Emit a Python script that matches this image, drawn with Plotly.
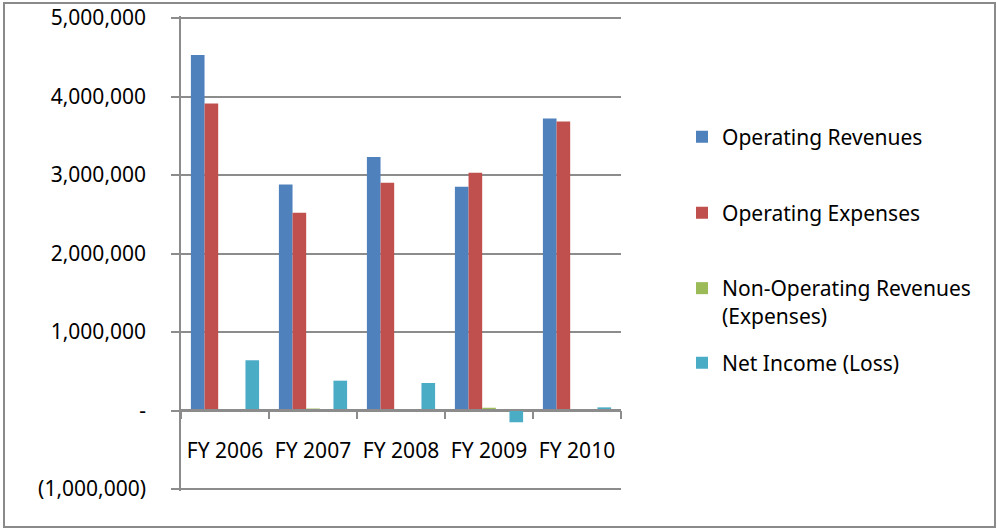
import plotly.graph_objects as go

categories = ["FY 2006", "FY 2007", "FY 2008", "FY 2009", "FY 2010"]
operating_revenues = [4530000, 2880000, 3230000, 2850000, 3720000]
operating_expenses = [3910000, 2520000, 2900000, 3030000, 3680000]
non_operating = [5000, 25000, 5000, 35000, 3000]
blank_series = [None, None, None, None, None]
net_income = [640000, 380000, 350000, -150000, 40000]

tick_values = [-1000000, 0, 1000000, 2000000, 3000000, 4000000, 5000000]
tick_labels = ["(1,000,000)", "-", "1,000,000", "2,000,000", "3,000,000", "4,000,000", "5,000,000"]

W, H = 997, 529
# plot area (pixels) – padded by 2px top/bottom so edge gridlines are drawn
L, R, T, B = 181, 376, 16, 38
PAD = 25500
FONT = "Noto Sans"
FS = 21
GRID = "#8c8c8c"

fig = go.Figure()
fig.add_bar(x=categories, y=operating_revenues, name="Operating Revenues",
            marker=dict(color="#4F81BD", line_width=0), legend="legend")
fig.add_bar(x=categories, y=operating_expenses, name="Operating Expenses",
            marker=dict(color="#C0504D", line_width=0), legend="legend2")
fig.add_bar(x=categories, y=non_operating, name="Non-Operating Revenues<br>(Expenses)",
            marker=dict(color="#9BBB59", line_width=0), legend="legend3")
fig.add_bar(x=categories, y=blank_series, name="", showlegend=False,
            marker=dict(color="rgba(0,0,0,0)", line_width=0))
fig.add_bar(x=categories, y=net_income, name="Net Income (Loss)",
            marker=dict(color="#4BACC6", line_width=0), legend="legend4")

def leg(ypx, valign="middle"):
    return dict(x=682 / W, xanchor="left", xref="container",
                y=1 - ypx / H, yanchor="middle", yref="container",
                font=dict(family=FONT, size=FS, color="black"),
                bgcolor="rgba(0,0,0,0)", valign=valign, itemclick=False)

zero_pos = (0 - (tick_values[0] - PAD)) / (tick_values[-1] - tick_values[0] + 2 * PAD)

fig.update_layout(
    width=W, height=H,
    margin=dict(l=L, r=R, t=T, b=B, autoexpand=False),
    paper_bgcolor="white", plot_bgcolor="white",
    barmode="group", bargap=0.225, bargroupgap=0,
    font=dict(family=FONT, size=FS, color="black"),
    legend=leg(137),
    legend2=leg(213),
    legend3=leg(302, "top"),
    legend4=leg(363),
    xaxis=dict(type="category", anchor="free", position=zero_pos,
               showline=True, linecolor=GRID, linewidth=1.5,
               ticks="outside", tickson="boundaries", ticklen=8,
               tickcolor=GRID, tickwidth=1.5, showgrid=False,
               ticklabelstandoff=22, automargin=False,
               tickfont=dict(family=FONT, size=FS, color="black")),
    yaxis=dict(range=[tick_values[0] - PAD, tick_values[-1] + PAD],
               tickvals=tick_values, ticktext=tick_labels,
               showline=True, linecolor=GRID, linewidth=1.5,
               ticks="outside", ticklen=8, tickcolor=GRID, tickwidth=1.5,
               showgrid=True, gridcolor=GRID, gridwidth=1.5,
               zeroline=False, ticklabelstandoff=21, automargin=False,
               tickfont=dict(family=FONT, size=FS, color="black")),
)

pw, ph = W - L - R, H - T - B
def px2paper_x(px):
    return (px - L) / pw
def px2paper_y(py):
    return (H - B - py) / ph

fig.add_shape(type="rect", xref="paper", yref="paper",
              x0=px2paper_x(4), x1=px2paper_x(995), y0=px2paper_y(527), y1=px2paper_y(3),
              line=dict(color="#8a8a8a", width=2), fillcolor="rgba(0,0,0,0)", layer="below")

fig.write_html("out.html", config={"displayModeBar": False},
               post_script="document.body.style.margin='0';document.body.style.overflow='hidden';")
